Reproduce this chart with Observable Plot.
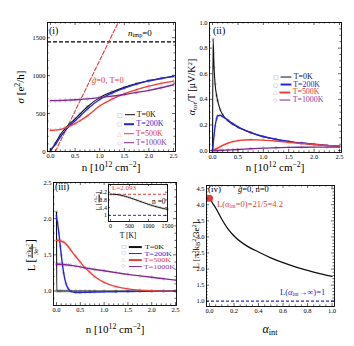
<!DOCTYPE html>
<html><head><meta charset="utf-8">
<script src="https://cdn.jsdelivr.net/npm/d3@7"></script>
<script src="https://cdn.jsdelivr.net/npm/@observablehq/plot@0.6"></script>
<style>
body{margin:0;background:#fff}
#fig{position:relative;width:354px;height:346px;overflow:hidden;font-family:"Liberation Serif","Times New Roman",serif;color:#000}
#fig svg{position:absolute}
.t{position:absolute;white-space:nowrap;line-height:1;transform:translateY(-50%)}
.ctr{transform:translate(-50%,-50%)}
.rot{transform:translate(-50%,-50%) rotate(-90deg)}
.t sup{font-size:70%;vertical-align:0.45em;line-height:0}
.t sub{font-size:70%;vertical-align:-0.25em;line-height:0}
.leg{position:absolute;display:flex;align-items:center;transform-origin:left center;white-space:nowrap;line-height:0.95}
.leg .sym{font-family:"DejaVu Sans",sans-serif;font-size:0.75em;margin-right:2px}
.leg .ln{display:inline-block;height:1.4px;margin-right:2px}
.frac{display:inline-flex;flex-direction:column;vertical-align:middle;font-size:0.62em;text-align:center;line-height:1.05;margin:0 1px}
.frac>span:first-child{border-bottom:0.6px solid #000}
</style></head><body><div id="fig"></div>
<script>
// ---------- shared series styling ----------
const temps = ["T=0K","T=200K","T=500K","T=1000K"];
const lineColors = ["#111111","#2626d9","#e8413c","#7d2a8c"];
const textColors = ["#111111","#2b2bd6","#e03a3a","#8e3a9e"];
const markColors = ["#9a9a9a","#9a9aee","#f3a8a8","#c99ad6"];
const symbols = ["square","circle","triangle","diamond"];
const legendGlyphs = ["□","○","△","◇"];

// ---------- panel (i): sigma vs n ----------
const nI = [0,0.1,0.2,0.3,0.4,0.5,0.6,0.75,1.0,1.25,1.5,1.75,2.0,2.25,2.5];
const sigma0    = [0,110,220,305,370,430,495,590,710,785,845,895,935,965,992];
const sigma200  = [25,90,190,275,345,405,465,560,685,770,835,888,930,962,990];
const sigma500  = [280,282,292,312,338,368,405,470,600,690,760,815,862,898,928];
const sigma1000 = [670,671,673,675,678,681,685,693,710,730,752,778,805,840,880];
const nLinear = [0.1,1.45];
const sigmaLinear = [0,1800];
const sigmaClean = [1445];
const xTicksI = [0,0.5,1.0,1.5,2.0,2.5];
const yTicksI = [0,500,1000,1500];

// ---------- panel (ii): alpha/T vs n ----------
const nII = [0,0.01,0.03,0.05,0.08,0.1,0.15,0.2,0.3,0.4,0.5,0.75,1.0,1.25,1.5,1.75,2.0,2.25,2.5];
const alpha0    = [0,0.87,0.65,0.52,0.43,0.39,0.32,0.28,0.235,0.205,0.182,0.14,0.108,0.087,0.071,0.058,0.048,0.04,0.034];
const alpha200  = [0,0.04,0.12,0.19,0.25,0.272,0.275,0.265,0.238,0.21,0.186,0.142,0.11,0.088,0.072,0.059,0.049,0.041,0.035];
const alpha500  = [0,0.002,0.006,0.01,0.016,0.02,0.03,0.04,0.057,0.07,0.078,0.085,0.082,0.074,0.064,0.055,0.047,0.04,0.034];
const alpha1000 = [0,0,0,0,0.001,0.001,0.002,0.003,0.004,0.006,0.008,0.014,0.019,0.022,0.025,0.026,0.027,0.027,0.027];
const xTicksII = [0,0.5,1.0,1.5,2.0,2.5];
const yTicksII = [0,0.2,0.4,0.6,0.8,1.0];

// ---------- panel (iii): Lorenz number vs n ----------
const nIII = [0,0.005,0.02,0.05,0.08,0.1,0.15,0.2,0.25,0.3,0.4,0.5,0.6,0.7,0.8,1.0,1.25,1.5,1.75,2.0,2.25,2.5];
const lor0    = [2.093,1.0,1.0,1.0,1.0,1.0,1.0,1.0,1.0,1.0,1.0,1.0,1.0,1.0,1.0,1.0,1.0,1.0,1.0,1.0,1.0,1.0];
const lor200  = [2.04,2.0,1.95,1.8,1.62,1.5,1.25,1.1,1.03,0.995,0.98,0.98,0.982,0.984,0.986,0.988,0.991,0.993,0.995,0.996,0.997,0.998];
const lor500  = [1.70,1.70,1.70,1.70,1.695,1.69,1.675,1.65,1.61,1.565,1.48,1.40,1.32,1.26,1.2,1.12,1.06,1.03,1.012,1.003,0.999,0.997];
const lor1000 = [1.37,1.37,1.37,1.37,1.369,1.368,1.366,1.363,1.36,1.355,1.345,1.333,1.32,1.31,1.298,1.28,1.255,1.23,1.21,1.19,1.17,1.15];
const xTicksIII = [0,0.5,1.0,1.5,2.0,2.5];
const yTicksIII = [1.0,1.5,2.0,2.5];

// inset of (iii): L vs T at n=0
const tInset = [0,100,200,300,400,500,600,700,800,900,1000,1100,1200,1300,1400,1500];
const lorInset = [2.093,2.09,2.07,2.03,1.98,1.92,1.85,1.78,1.71,1.64,1.57,1.51,1.45,1.40,1.35,1.31];
const lorInsetMax = [2.093];
const lorInsetMin = [1.0];
const xTicksInset = [0,500,1000,1500];
const yTicksInset = [1.0,1.4,1.8,2.2];

// ---------- panel (iv): L vs alpha_int ----------
const alphaInt = [0,0.01,0.02,0.05,0.1,0.15,0.2,0.3,0.4,0.5,0.6,0.7,0.8,0.9,1.0];
const lorAlpha = [4.2,4.15,4.08,3.9,3.55,3.25,3.03,2.73,2.53,2.35,2.2,2.07,1.96,1.86,1.77];
const alphaDot = [0];
const lorDot = [4.2];
const lorInf = [1.0];
const xTicksIV = [0,0.2,0.4,0.6,0.8,1.0];
const yTicksIV = [1.0,1.5,2.0,2.5,3.0,3.5,4.0,4.5];

// ---------- helpers ----------
const fig = document.getElementById("fig");
const rows = (xs, ys) => xs.map((x,i)=>({x, y: ys[i]}));
const minorOf = (lo, hi, step, majorStep) => d3.range(lo, hi + step/2, step).filter(v => Math.abs(v/majorStep - Math.round(v/majorStep)) > 1e-6);

function seriesMarks(xs, yss, opts={}){
  const out = [];
  yss.forEach((ys,k)=>{
    out.push(Plot.dot(rows(xs,ys), {x:"x", y:"y", symbol: symbols[k], r: opts.r ?? 1.3, stroke: markColors[k], strokeWidth:0.5, fill:"none"}));
  });
  yss.forEach((ys,k)=>{
    out.push(Plot.line(rows(xs,ys), {x:"x", y:"y", stroke: lineColors[k], strokeWidth: k===0 ? 1.1 : 1.4, curve: "monotone-x", clip: true}));
  });
  return out;
}

function panel(cfg){
  const {left, top, width, height, ml, mr, mt, mb} = cfg;
  const iw = width-ml-mr, ih = height-mt-mb;
  const T = cfg.tick ?? 3, t = 1.6;
  const ts = {stroke:"#000", strokeWidth:0.6};
  const minor = [];
  if (cfg.xMinor) minor.push(Plot.tickX(cfg.xMinor, {insetTop: ih-t, ...ts}), Plot.tickX(cfg.xMinor, {insetBottom: ih-t, ...ts}));
  if (cfg.yMinor) minor.push(Plot.tickY(cfg.yMinor, {insetRight: iw-t, ...ts}), Plot.tickY(cfg.yMinor, {insetLeft: iw-t, ...ts}));
  const svg = Plot.plot({
    width, height, marginLeft: ml, marginRight: mr, marginTop: mt, marginBottom: mb,
    x: {domain: cfg.xDomain}, y: {domain: cfg.yDomain},
    style: {background: "transparent", fontFamily: "'Liberation Serif', serif", fontSize: (cfg.fs ?? 6.5)+"px", overflow: "visible", color: "#000"},
    marks: [
      ...(cfg.bg ? [Plot.frame({fill: "white"})] : []),
      ...cfg.marks,
      Plot.tickX(cfg.xTicks, {insetTop: ih-T, ...ts}),
      Plot.tickX(cfg.xTicks, {insetBottom: ih-T, ...ts}),
      Plot.tickY(cfg.yTicks, {insetRight: iw-T, ...ts}),
      Plot.tickY(cfg.yTicks, {insetLeft: iw-T, ...ts}),
      ...minor,
      Plot.frame({stroke: "#000", strokeWidth: 0.9}),
      Plot.axisX(cfg.xTicks, {tickSize: 0, tickPadding: cfg.xPad ?? 1.5, tickFormat: cfg.xFmt, label: null}),
      Plot.axisY(cfg.yTicks, {tickSize: 0, tickPadding: cfg.yPad ?? 2, tickFormat: cfg.yFmt, label: null})
    ]
  });
  svg.style.position = "absolute";
  svg.style.left = left+"px";
  svg.style.top = top+"px";
  fig.appendChild(svg);
}

function txt(html, x, y, o={}){
  const d = document.createElement("div");
  d.className = "t" + (o.rot ? " rot" : "") + (o.ctr ? " ctr" : "");
  d.innerHTML = html;
  d.style.left = x+"px"; d.style.top = y+"px";
  d.style.fontSize = (o.size ?? 9)+"px";
  if (o.color) d.style.color = o.color;
  fig.appendChild(d);
  return d;
}

function legend(left, top, dy, size, lineW, sx){
  temps.forEach((name,i)=>{
    const d = document.createElement("div");
    d.className = "leg";
    d.style.left = left+"px"; d.style.top = (top+i*dy)+"px"; d.style.fontSize = size+"px";
    d.style.transform = `translateY(-50%) scaleX(${sx ?? 1})`;
    d.innerHTML = `<span class="sym" style="color:${markColors[i]}">${legendGlyphs[i]}</span><span class="ln" style="width:${lineW}px;background:${lineColors[i]}"></span><span style="color:${textColors[i]}">${name}</span>`;
    fig.appendChild(d);
  });
}

const f1 = d3.format(".1f");
const red = "#e23b3b", blue = "#2626d9";
const nLabel = "n [10<sup>12</sup> cm<sup>−2</sup>]";

// ---------- panel (i) ----------
panel({
  left:0, top:0, width:177, height:175, ml:47, mr:2, mt:22, mb:24,
  xDomain:[-0.06,2.54], yDomain:[0,1700],
  xTicks:xTicksI, yTicks:yTicksI, xFmt:f1, yFmt:d=>String(d),
  xMinor:minorOf(0.1,2.4,0.1,0.5), yMinor:minorOf(100,1600,100,500),
  marks:[
    Plot.ruleY(sigmaClean, {stroke:"#000", strokeWidth:1.2, strokeDasharray:"4,2"}),
    Plot.line(rows(nLinear, sigmaLinear), {x:"x", y:"y", stroke:red, strokeWidth:1.1, strokeDasharray:"4,2", clip:true}),
    ...seriesMarks(nI, [sigma0, sigma200, sigma500, sigma1000])
  ]
});
txt("(i)", 49, 31, {size:10});
txt("<i>n</i><sub>imp</sub>=0", 128, 33, {size:9});
txt("<i>g̃</i>=0, T=0", 92, 80, {size:8.5, color:red});
legend(117, 115, 9.3, 8, 10);
txt("<i>σ</i> [e<sup>2</sup>/h]", 20, 87, {size:11, rot:true});
txt(nLabel, 111, 167, {size:11, ctr:true});

// ---------- panel (ii) ----------
panel({
  left:177, top:0, width:177, height:175, ml:32, mr:13, mt:22, mb:23,
  xDomain:[-0.06,2.54], yDomain:[-0.015,1.0],
  xTicks:xTicksII, yTicks:yTicksII, xFmt:f1, yFmt:f1,
  xMinor:minorOf(0.1,2.4,0.1,0.5), yMinor:minorOf(0.05,0.95,0.05,0.2),
  marks: seriesMarks(nII, [alpha0, alpha200, alpha500, alpha1000], {r:1.1})
});
txt("(ii)", 213, 31, {size:10});
legend(273, 77, 7.7, 7.3, 10, 1.08);
txt("<i>α</i><sub>tot</sub>/T [μV/K<sup>2</sup>]", 192, 87, {size:10, rot:true});
txt(nLabel, 275, 167, {size:11, ctr:true});

// ---------- panel (iii) ----------
panel({
  left:0, top:175, width:177, height:171, ml:53, mr:1, mt:7, mb:41,
  xDomain:[-0.063,2.52], yDomain:[0.8,2.5],
  xTicks:xTicksIII, yTicks:yTicksIII, xFmt:f1, yFmt:f1, xPad:1.5,
  xMinor:minorOf(0.1,2.4,0.1,0.5), yMinor:minorOf(0.9,2.4,0.1,0.5),
  marks: seriesMarks(nIII, [lor0, lor200, lor500, lor1000], {r:1.2})
});
txt("(iii)", 55, 188, {size:9.5});
legend(121, 247, 6.5, 6.2, 10, 1.3);
txt('L <span style="font-size:1.25em">[</span><span class="frac"><span>π<sup>2</sup>k<sub>B</sub><sup>2</sup></span><span>3e<sup>2</sup></span></span><span style="font-size:1.25em">]</span>', 32, 255, {size:10, rot:true});
txt(nLabel, 115, 329, {size:11, ctr:true});

// inset
panel({
  left:88, top:178, width:82, height:62, ml:20, mr:3, mt:6, mb:19, bg:true, tick:2, fs:6,
  xDomain:[-53,1500], yDomain:[0.68,2.6],
  xTicks:xTicksInset, yTicks:yTicksInset, xFmt:d=>String(d), yFmt:d=>d===1?"1":f1(d), xPad:2, yPad:1.5,
  marks:[
    Plot.ruleY(lorInsetMax, {stroke:red, strokeWidth:1, strokeDasharray:"3,2"}),
    Plot.ruleY(lorInsetMin, {stroke:blue, strokeWidth:1, strokeDasharray:"3,2"}),
    Plot.dot(rows(tInset, lorInset), {x:"x", y:"y", symbol:"square", r:1.1, stroke:"#aaa", strokeWidth:0.5, fill:"none"}),
    Plot.line(rows(tInset, lorInset), {x:"x", y:"y", stroke:"#111", strokeWidth:1, curve:"monotone-x"})
  ]
});
txt("L=2.093", 112, 188, {size:7, color:red});
txt("n =0", 152, 202, {size:7.5});
txt('L <span>[</span><span class="frac"><span>π<sup>2</sup>k<sub>B</sub><sup>2</sup></span><span>3e<sup>2</sup></span></span><span>]</span>', 99, 201, {size:6, rot:true});
txt("T [K]", 128, 236, {size:7.5, ctr:true});

// ---------- panel (iv) ----------
panel({
  left:177, top:175, width:177, height:171, ml:29, mr:20, mt:10, mb:40,
  xDomain:[-0.025,1.02], yDomain:[0.835,4.6],
  xTicks:xTicksIV, yTicks:yTicksIV, xFmt:f1, yFmt:f1,
  xMinor:minorOf(0.05,0.95,0.05,0.2), yMinor:minorOf(1.1,4.5,0.1,0.5),
  marks:[
    Plot.ruleY(lorInf, {stroke:blue, strokeWidth:1.2, strokeDasharray:"3,2"}),
    Plot.line(rows(alphaInt, lorAlpha), {x:"x", y:"y", stroke:"#111", strokeWidth:1.3, curve:"monotone-x"}),
    Plot.dot(rows(alphaDot, lorDot), {x:"x", y:"y", r:3.5, fill:red, stroke:"none"})
  ]
});
txt("(iv)", 208, 189, {size:9});
txt("<i>g̃</i>=0, n=0", 238, 189, {size:8.5});
txt("L(<i>α</i><sub>int</sub>=0)=21/5=4.2", 217, 204, {size:8.5, color:red});
txt("L(<i>α</i><sub>int</sub>→∞)=1", 280, 292, {size:8.5, color:blue});
txt("L [π<sup>2</sup>k<sub>B</sub><sup>2</sup>/3e<sup>2</sup>]", 196, 245, {size:9, rot:true});
txt("<i>α</i><sub>int</sub>", 270, 329, {size:12, ctr:true});
</script></body></html>
